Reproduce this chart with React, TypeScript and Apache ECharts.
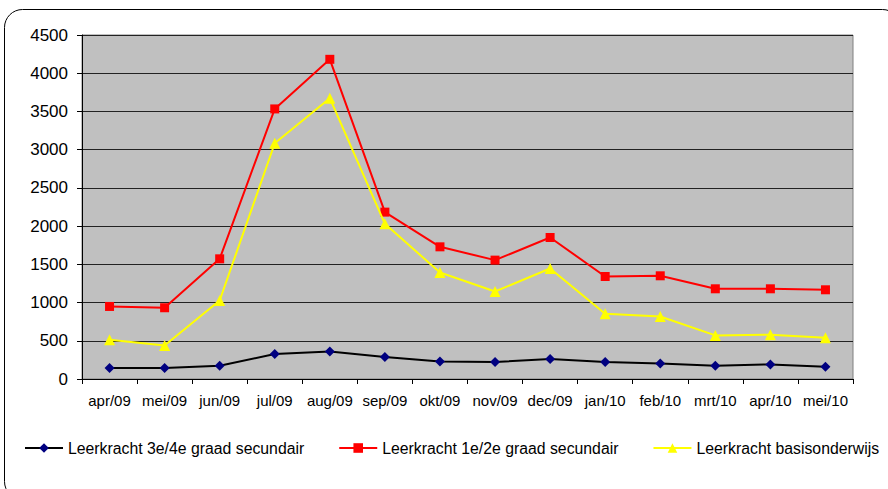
import React, { useEffect, useRef } from "react";
import * as echarts from "echarts";

const categories = ["apr/09", "mei/09", "jun/09", "jul/09", "aug/09", "sep/09", "okt/09", "nov/09", "dec/09", "jan/10", "feb/10", "mrt/10", "apr/10", "mei/10"];
const seriesNames = ["Leerkracht 3e/4e graad secundair", "Leerkracht 1e/2e graad secundair", "Leerkracht basisonderwijs"];
const graad34 = [144, 144, 174, 327, 361, 288, 230, 222, 261, 222, 204, 174, 191, 161];
const graad12 = [949, 932, 1572, 3533, 4182, 2183, 1729, 1555, 1851, 1341, 1350, 1180, 1180, 1167];
const basis = [514, 439, 1027, 3084, 3673, 2030, 1393, 1145, 1446, 853, 818, 570, 579, 540];

export default function App() {
  const ref = useRef<HTMLDivElement>(null);
  useEffect(() => {
    if (!ref.current) return;
    const chart = echarts.init(ref.current, undefined, { renderer: "svg" });
    const font = "'Liberation Sans', Arial, sans-serif";
    chart.setOption({
      animation: false,
      backgroundColor: "#ffffff",
      textStyle: { fontFamily: font },
      graphic: [
        {
          type: "rect",
          shape: { x: 4.5, y: 9.5, width: 896, height: 490, r: [18, 18, 18, 18] },
          style: { fill: "none", stroke: "#000", lineWidth: 1 },
          silent: true,
          z: 100,
        },
      ],
      grid: {
        left: 82,
        right: 35,
        top: 35,
        bottom: 110,
        show: true,
        backgroundColor: "#c0c0c0",
        borderColor: "#808080",
        borderWidth: 1,
      },
      legend: {
        left: 24,
        top: 440,
        width: 862,
        itemWidth: 38,
        itemHeight: 12,
        itemGap: 34,
        padding: 0,
        textStyle: { fontFamily: font, fontSize: 15.8, color: "#000" },
        data: seriesNames,
      },
      xAxis: {
        type: "category",
        data: categories,
        boundaryGap: true,
        axisLine: { lineStyle: { color: "#000", width: 1 } },
        axisTick: { show: true, length: 5, lineStyle: { color: "#000" } },
        axisLabel: { color: "#000", fontSize: 15, margin: 14, fontFamily: font, interval: 0 },
        splitLine: { show: false },
      },
      yAxis: {
        type: "value",
        min: 0,
        max: 4500,
        interval: 500,
        axisLine: { show: true, lineStyle: { color: "#000", width: 1 } },
        axisTick: { show: true, length: 5, lineStyle: { color: "#000" } },
        axisLabel: {
          color: "#000",
          fontSize: 17,
          margin: 14,
          fontFamily: font,
          formatter: (v: number) => String(v),
        },
        splitLine: { show: true, lineStyle: { color: "#222", width: 1 } },
      },
      series: [
        {
          name: seriesNames[0],
          type: "line",
          data: graad34,
          symbol: "diamond",
          symbolSize: 10,
          lineStyle: { color: "#000000", width: 2 },
          itemStyle: { color: "#000080", borderWidth: 0 },
          z: 3,
        },
        {
          name: seriesNames[1],
          type: "line",
          data: graad12,
          symbol: "rect",
          symbolSize: 9,
          lineStyle: { color: "#ff0000", width: 2 },
          itemStyle: { color: "#ff0000", borderWidth: 0 },
          z: 4,
        },
        {
          name: seriesNames[2],
          type: "line",
          data: basis,
          symbol: "triangle",
          symbolSize: 11,
          lineStyle: { color: "#ffff00", width: 2 },
          itemStyle: { color: "#ffff00", borderWidth: 0 },
          z: 5,
        },
      ],
    });
    return () => chart.dispose();
  }, []);
  return (
    <div
      ref={ref}
      style={{ position: "absolute", left: 0, top: 0, width: 888, height: 489 }}
    />
  );
}
